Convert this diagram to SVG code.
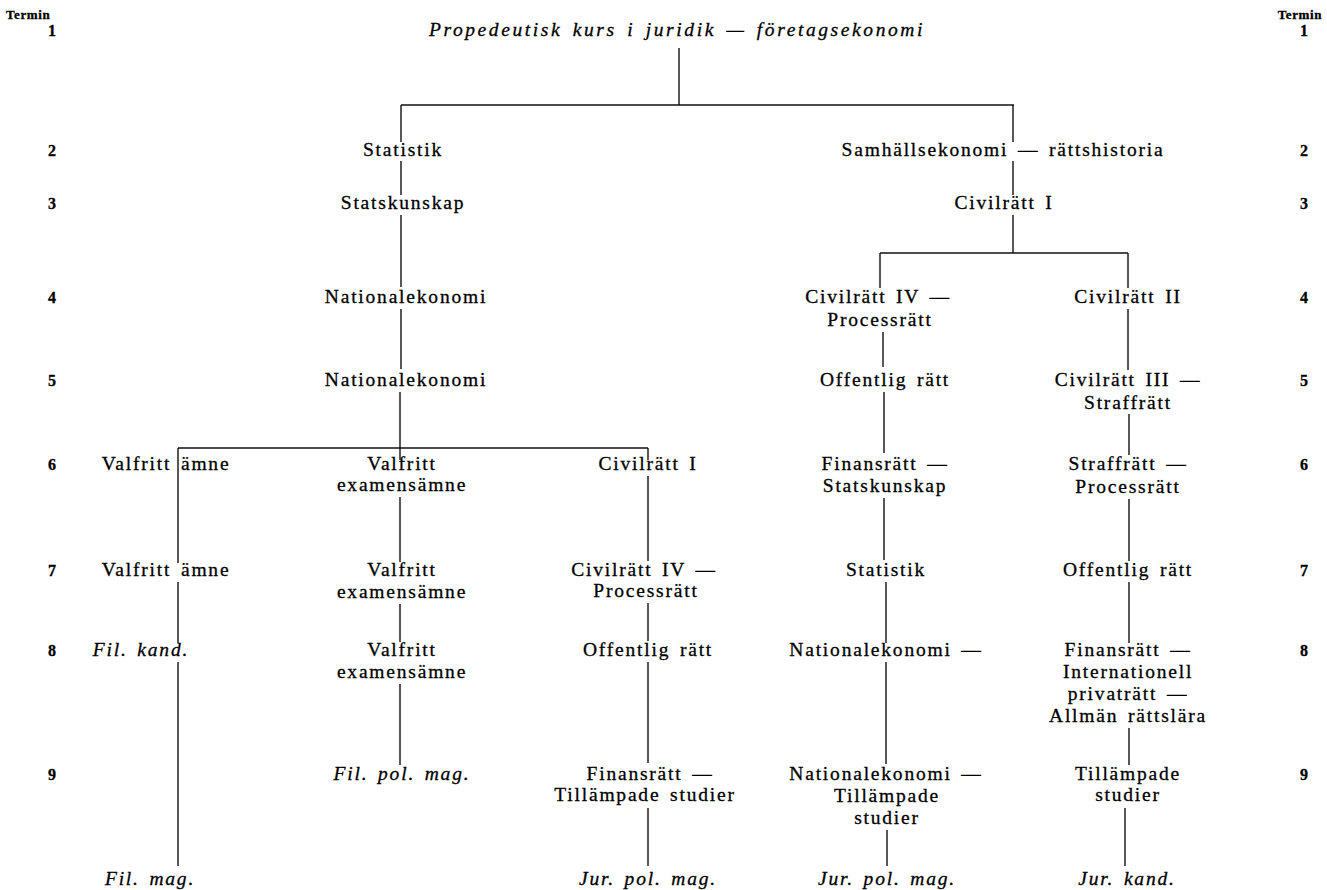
<svg xmlns="http://www.w3.org/2000/svg" width="1327" height="890" viewBox="0 0 1327 890">
<style>
text{font-family:"Liberation Serif","DejaVu Serif",serif;fill:#000;stroke:#000;stroke-width:0.3}
.t{font-size:19.5px;letter-spacing:1.8px;word-spacing:3px;text-anchor:middle}
.i{font-style:italic}
.n{font-size:16px;font-weight:bold;text-anchor:middle}
.h{font-size:13px;font-weight:bold;letter-spacing:0.6px}
.c line{stroke:#111;stroke-width:1.4}
.c .b{stroke-width:1.7}
</style>
<rect width="1327" height="890" fill="#fff"/>
<g id="terms-left">
<text class="h" x="6" y="19">Termin</text>
<text class="n" x="52" y="36">1</text>
<text class="n" x="52" y="156">2</text>
<text class="n" x="52" y="209">3</text>
<text class="n" x="52" y="303">4</text>
<text class="n" x="52" y="386">5</text>
<text class="n" x="52" y="470">6</text>
<text class="n" x="52" y="576">7</text>
<text class="n" x="52" y="656">8</text>
<text class="n" x="52" y="780">9</text>
</g>
<g id="terms-right">
<text class="h" x="1322" y="19" text-anchor="end">Termin</text>
<text class="n" x="1304" y="36">1</text>
<text class="n" x="1304" y="156">2</text>
<text class="n" x="1304" y="209">3</text>
<text class="n" x="1304" y="303">4</text>
<text class="n" x="1304" y="386">5</text>
<text class="n" x="1304" y="470">6</text>
<text class="n" x="1304" y="576">7</text>
<text class="n" x="1304" y="656">8</text>
<text class="n" x="1304" y="780">9</text>
</g>
<g class="c" id="connectors">
<line x1="679" y1="48" x2="679" y2="105"/>
<line class="b" x1="401" y1="105" x2="1014" y2="105"/>
<line x1="401" y1="105" x2="401" y2="142"/>
<line x1="1013" y1="105" x2="1013" y2="142"/>
<line x1="401" y1="161" x2="401" y2="195"/>
<line x1="401" y1="215" x2="401" y2="287"/>
<line x1="401" y1="309" x2="401" y2="369"/>
<line x1="400" y1="392" x2="400" y2="448"/>
<line class="b" x1="178" y1="448" x2="648" y2="448"/>
<line x1="178" y1="448" x2="178" y2="476"/>
<line x1="400" y1="448" x2="400" y2="460"/>
<line x1="648" y1="448" x2="648" y2="460"/>
<line x1="178" y1="476" x2="178" y2="563"/>
<line x1="178" y1="582" x2="178" y2="643"/>
<line x1="178" y1="662" x2="178" y2="866"/>
<line x1="400" y1="497" x2="400" y2="562"/>
<line x1="400" y1="604" x2="400" y2="642"/>
<line x1="400" y1="684" x2="400" y2="765"/>
<line x1="648" y1="476" x2="648" y2="561"/>
<line x1="648" y1="603" x2="648" y2="641"/>
<line x1="648" y1="662" x2="648" y2="763"/>
<line x1="648" y1="808" x2="648" y2="866"/>
<line x1="1013" y1="161" x2="1013" y2="195"/>
<line x1="1013" y1="215" x2="1013" y2="253"/>
<line class="b" x1="880" y1="253" x2="1128" y2="253"/>
<line x1="880" y1="253" x2="880" y2="288"/>
<line x1="1128" y1="253" x2="1128" y2="288"/>
<line x1="883" y1="332" x2="883" y2="367"/>
<line x1="884" y1="392" x2="884" y2="453"/>
<line x1="884" y1="498" x2="884" y2="560"/>
<line x1="886" y1="582" x2="886" y2="643"/>
<line x1="886" y1="662" x2="886" y2="764"/>
<line x1="887" y1="830" x2="887" y2="866"/>
<line x1="1128" y1="309" x2="1128" y2="370"/>
<line x1="1129" y1="414" x2="1129" y2="455"/>
<line x1="1129" y1="499" x2="1129" y2="561"/>
<line x1="1129" y1="582" x2="1129" y2="643"/>
<line x1="1129" y1="728" x2="1129" y2="765"/>
<line x1="1125" y1="808" x2="1125" y2="866"/>
</g>
<g id="n-propedeutisk"><text class="t i" x="677" y="36" style="letter-spacing:2.6px">Propedeutisk kurs i juridik — företagsekonomi</text></g>
<g id="n-statistik"><text class="t" x="403" y="156">Statistik</text></g>
<g id="n-statskunskap"><text class="t" x="403" y="209">Statskunskap</text></g>
<g id="n-nationalek4"><text class="t" x="406" y="303">Nationalekonomi</text></g>
<g id="n-nationalek5"><text class="t" x="406" y="386">Nationalekonomi</text></g>
<g id="n-valfritt6"><text class="t" x="166" y="470">Valfritt ämne</text></g>
<g id="n-valfritt7"><text class="t" x="166" y="576">Valfritt ämne</text></g>
<g id="n-filkand"><text class="t i" x="141" y="656">Fil. kand.</text></g>
<g id="n-filmag"><text class="t i" x="150" y="885">Fil. mag.</text></g>
<g id="n-valex6"><text class="t" x="402" y="470">Valfritt</text><text class="t" x="402" y="491">examensämne</text></g>
<g id="n-valex7"><text class="t" x="402" y="576">Valfritt</text><text class="t" x="402" y="598">examensämne</text></g>
<g id="n-valex8"><text class="t" x="402" y="656">Valfritt</text><text class="t" x="402" y="678">examensämne</text></g>
<g id="n-filpolmag"><text class="t i" x="402" y="780">Fil. pol. mag.</text></g>
<g id="n-civ1-l"><text class="t" x="648" y="470">Civilrätt I</text></g>
<g id="n-civ4-l"><text class="t" x="644" y="576">Civilrätt IV —</text><text class="t" x="646" y="597">Processrätt</text></g>
<g id="n-offentlig-l"><text class="t" x="648" y="656">Offentlig rätt</text></g>
<g id="n-finans-l"><text class="t" x="650" y="780">Finansrätt —</text><text class="t" x="645" y="801">Tillämpade studier</text></g>
<g id="n-jurpolmag-l"><text class="t i" x="648" y="885">Jur. pol. mag.</text></g>
<g id="n-samhall"><text class="t" x="1003" y="156">Samhällsekonomi — rättshistoria</text></g>
<g id="n-civ1-r"><text class="t" x="1004" y="209">Civilrätt I</text></g>
<g id="n-civ4-r"><text class="t" x="878" y="303">Civilrätt IV —</text><text class="t" x="880" y="326">Processrätt</text></g>
<g id="n-offentlig-r"><text class="t" x="885" y="386">Offentlig rätt</text></g>
<g id="n-finstat"><text class="t" x="885" y="470">Finansrätt —</text><text class="t" x="885" y="492">Statskunskap</text></g>
<g id="n-statistik-r"><text class="t" x="886" y="576">Statistik</text></g>
<g id="n-nationalek8"><text class="t" x="886" y="656">Nationalekonomi —</text></g>
<g id="n-nationalek9"><text class="t" x="886" y="780">Nationalekonomi —</text><text class="t" x="887" y="802">Tillämpade</text><text class="t" x="887" y="824">studier</text></g>
<g id="n-jurpolmag-r"><text class="t i" x="887" y="885">Jur. pol. mag.</text></g>
<g id="n-civ2"><text class="t" x="1128" y="303">Civilrätt II</text></g>
<g id="n-civ3"><text class="t" x="1128" y="386">Civilrätt III —</text><text class="t" x="1128" y="409">Straffrätt</text></g>
<g id="n-straff"><text class="t" x="1128" y="470">Straffrätt —</text><text class="t" x="1128" y="493">Processrätt</text></g>
<g id="n-offentlig-r2"><text class="t" x="1128" y="576">Offentlig rätt</text></g>
<g id="n-finint"><text class="t" x="1128" y="656">Finansrätt —</text><text class="t" x="1128" y="678">Internationell</text><text class="t" x="1128" y="700">privaträtt —</text><text class="t" x="1128" y="722">Allmän rättslära</text></g>
<g id="n-tillampade"><text class="t" x="1128" y="780">Tillämpade</text><text class="t" x="1128" y="801">studier</text></g>
<g id="n-jurkand"><text class="t i" x="1127" y="885">Jur. kand.</text></g>
</svg>
